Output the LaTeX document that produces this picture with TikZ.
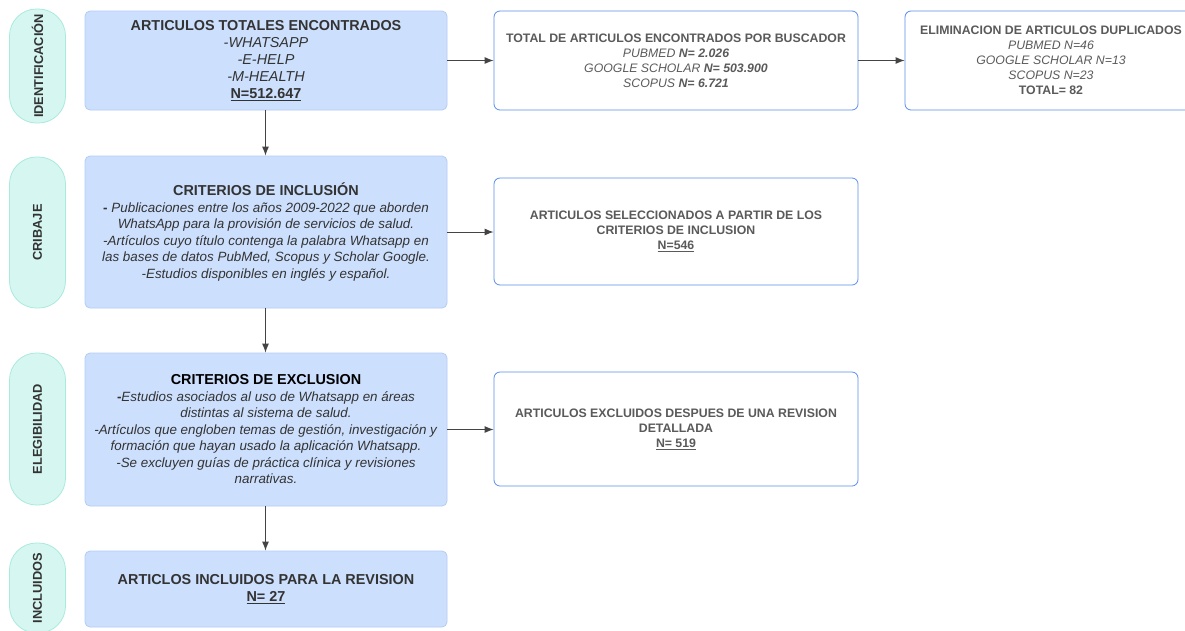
\documentclass[tikz,border=0pt]{standalone}
\usepackage{fontspec}
\setmainfont{Liberation Sans}
\usetikzlibrary{arrows.meta}
\definecolor{bluefill}{HTML}{CCDFFD}
\definecolor{blueline}{HTML}{B3CCF5}
\definecolor{pillfill}{HTML}{D6F7F1}
\definecolor{pillline}{HTML}{A9EADD}
\definecolor{rbline}{HTML}{5A8EEA}
\definecolor{txt}{HTML}{333333}
\definecolor{gtxt}{HTML}{5A5A5A}
\definecolor{arr}{HTML}{444444}
\tikzset{
  mainbox/.style={draw=blueline, fill=bluefill, line width=0.8pt, rounded corners=5pt,
    inner sep=0pt, minimum width=362pt, align=center, text=txt,
    font=\fontsize{14.4}{17}\selectfont},
  critbox/.style={mainbox, font=\fontsize{13.4}{16.5}\selectfont},
  rightbox/.style={draw=rbline, fill=white, line width=0.8pt, rounded corners=6pt,
    inner sep=0pt, minimum width=364pt, align=center, text=gtxt,
    font=\fontsize{12.3}{15}\selectfont},
  pill/.style={draw=pillline, fill=pillfill, line width=0.8pt, rounded corners=27pt,
    inner sep=0pt, minimum width=56pt},
  pilltext/.style={rotate=90, font=\bfseries\fontsize{12.8}{14}\selectfont, text=txt},
  conn/.style={draw=arr, line width=1pt, -{Latex[length=9pt,width=7pt]}}
}
\begin{document}
\begin{tikzpicture}[x=1pt,y=-1pt]
\clip (0,0) rectangle (1185,630);
\useasboundingbox (0,0) rectangle (1185,630);
\fill[white] (0,0) rectangle (1185,630);

% pills
\node[pill, minimum height=114pt] (p1) at (37.5,66) {};
\node[pilltext] (p1t) at (p1.center) {IDENTIFICACIÓN};
\node[pill, minimum height=151pt] (p2) at (37.5,232.5) {};
\node[pilltext] (p2t) at (p2.center) {CRIBAJE};
\node[pill, minimum height=152pt] (p3) at (37.5,429) {};
\node[pilltext] (p3t) at (p3.center) {ELEGIBILIDAD};
\node[pill, minimum height=90pt] (p4) at (37.5,588) {};
\node[pilltext] (p4t) at (p4.center) {INCLUIDOS};

% main column
\node[mainbox, minimum height=99pt] (b1) at (266,60.5) {%
\textbf{ARTICULOS TOTALES ENCONTRADOS}\\
\textit{-WHATSAPP}\\
\textit{-E-HELP}\\
\textit{-M-HEALTH}\\
\textbf{\underline{N=512.647}}};

\node[critbox, minimum height=152pt] (b2) at (266,232) {%
\textbf{\fontsize{14.4}{16.5}\selectfont CRITERIOS DE INCLUSIÓN}\\
\textbf{-} \textit{Publicaciones entre los años 2009-2022 que aborden}\\
\textit{WhatsApp para la provisión de servicios de salud.}\\
\textit{-Artículos cuyo título contenga la palabra Whatsapp en}\\
\textit{las bases de datos PubMed, Scopus y Scholar Google.}\\
\textit{-Estudios disponibles en inglés y español.}};

\node[critbox, minimum height=153pt] (b3) at (266,429.5) {%
\textcolor{black}{\textbf{\fontsize{14.4}{16.5}\selectfont CRITERIOS DE EXCLUSION}}\\
\textbf{-}\textit{Estudios asociados al uso de Whatsapp en áreas}\\
\textit{distintas al sistema de salud.}\\
\textit{-Artículos que engloben temas de gestión, investigación y}\\
\textit{formación que hayan usado la aplicación Whatsapp.}\\
\textit{-Se excluyen guías de práctica clínica y revisiones}\\
\textit{narrativas.}};

\node[mainbox, minimum height=76pt] (b4) at (266,589) {%
\textbf{ARTICLOS INCLUIDOS PARA LA REVISION}\\
\textbf{\underline{N= 27}}};

% right column
\node[rightbox, minimum height=99pt] (r1) at (676,60.5) {%
\textbf{TOTAL DE ARTICULOS ENCONTRADOS POR BUSCADOR}\\
\textit{PUBMED \textbf{N= 2.026}}\\
\textit{GOOGLE SCHOLAR \textbf{N= 503.900}}\\
\textit{SCOPUS \textbf{N= 6.721}}};

\node[rightbox, minimum width=292pt, minimum height=99pt] (r2) at (1051,60.5) {%
\textbf{ELIMINACION DE ARTICULOS DUPLICADOS}\\
\textit{PUBMED N=46}\\
\textit{GOOGLE SCHOLAR N=13}\\
\textit{SCOPUS N=23}\\
\textbf{TOTAL= 82}};

\node[rightbox, minimum height=107pt] (r3) at (676,231.5) {%
\textbf{ARTICULOS SELECCIONADOS A PARTIR DE LOS}\\
\textbf{CRITERIOS DE INCLUSION}\\
\textbf{\underline{N=546}}};

\node[rightbox, minimum height=114pt] (r4) at (676,429) {%
\textbf{ARTICULOS EXCLUIDOS DESPUES DE UNA REVISION}\\
\textbf{DETALLADA}\\
\textbf{\underline{N= 519}}};

% connectors
\draw[conn] (b1.east |- r1.west) -- (r1.west);
\draw[conn] (r1.east) -- (r2.west);
\draw[conn] (b2.east) -- (r3.west |- b2.east);
\draw[conn] (b3.east) -- (r4.west |- b3.east);
\draw[conn] (b1.south -| 265.5,0) -- (b2.north -| 265.5,0);
\draw[conn] (b2.south -| 265.5,0) -- (b3.north -| 265.5,0);
\draw[conn] (b3.south -| 265.5,0) -- (b4.north -| 265.5,0);
\end{tikzpicture}
\end{document}
